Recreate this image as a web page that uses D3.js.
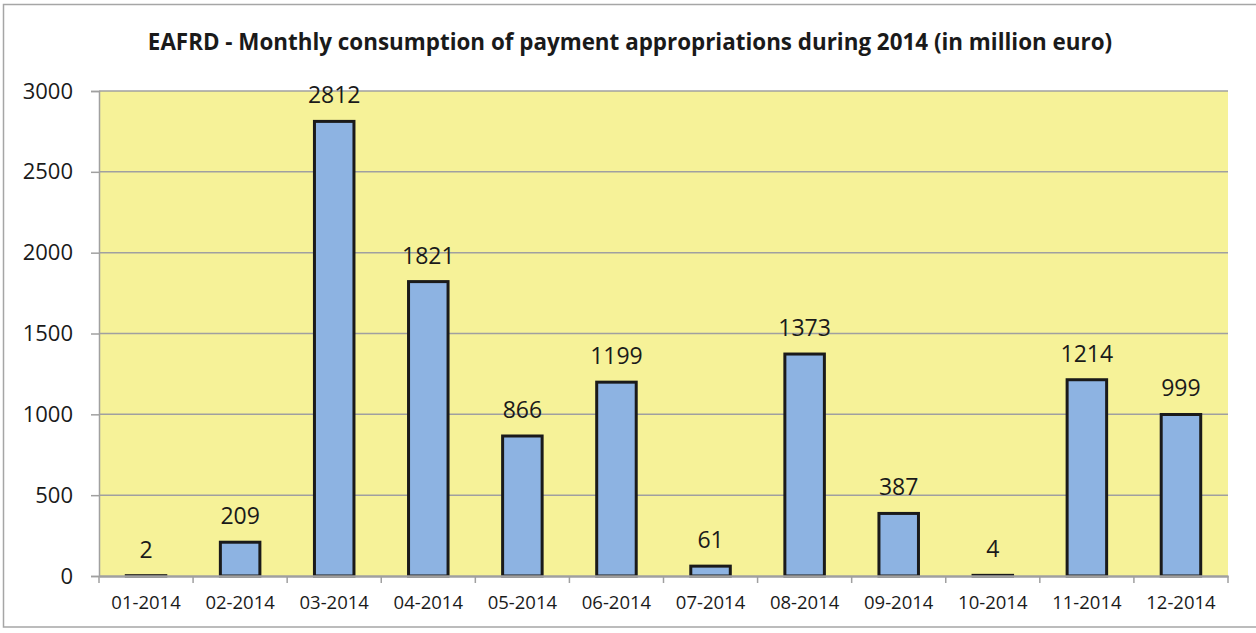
<!DOCTYPE html>
<html>
<head>
<meta charset="utf-8">
<script src="https://cdn.jsdelivr.net/npm/d3@7"></script>
<style>
  body { margin: 0; background: #fff; }
  text { font-family: "Open Sans", sans-serif; fill: #1a1a1a; }
</style>
</head>
<body>
<div id="chart"></div>
<script>
(function(){

var months = ["01-2014", "02-2014", "03-2014", "04-2014", "05-2014", "06-2014",
              "07-2014", "08-2014", "09-2014", "10-2014", "11-2014", "12-2014"];
var payments = [2, 209, 2812, 1821, 866, 1199, 61, 1373, 387, 4, 1214, 999];
var yTicks = [0, 500, 1000, 1500, 2000, 2500, 3000];
var title = "EAFRD - Monthly consumption of payment appropriations during 2014 (in million euro)";

var W = 1256, H = 633;
var margin = {top: 91, right: 28, bottom: 57, left: 99},
    width = W - margin.left - margin.right,
    height = H - margin.top - margin.bottom;

var root = d3.select("#chart")
  .append("svg")
    .attr("width", W)
    .attr("height", H);

// outer chart border
root.append("rect")
    .attr("x", 3.5).attr("y", 4.5)
    .attr("width", W + 10).attr("height", 627 - 4.5)
    .attr("fill", "#fff")
    .attr("stroke", "#a6a6a6")
    .attr("stroke-width", 1.5);

root.append("text")
    .attr("x", 630)
    .attr("y", 50)
    .attr("text-anchor", "middle")
    .attr("font-size", "22.4px")
    .attr("font-weight", "bold")
    .text(title);

var svg = root.append("g")
    .attr("transform", "translate(" + margin.left + "," + margin.top + ")");

var x = d3.scaleBand()
          .domain(months)
          .range([0, width])
          .paddingInner(0.58)
          .paddingOuter(0.29);

var xb = d3.scaleBand().domain(months).range([0, width]);

var y = d3.scaleLinear()
          .domain([0, 3000])
          .range([height, 0]);

// plot background
svg.append("rect")
    .attr("width", width)
    .attr("height", height)
    .attr("fill", "#f6f298");

// gridlines
svg.selectAll(".grid")
    .data(yTicks.filter(d => d > 0)).enter()
    .append("line")
      .attr("x1", 0).attr("x2", width)
      .attr("y1", d => y(d)).attr("y2", d => y(d))
      .attr("stroke", "#a0a0a0")
      .attr("stroke-width", 1.5);

// bars
svg.selectAll(".bar")
    .data(payments).enter()
    .append("rect")
      .attr("x", (d, i) => x(months[i]))
      .attr("y", d => y(d))
      .attr("width", x.bandwidth())
      .attr("height", d => height - y(d))
      .attr("fill", "#8db3e2")
      .attr("stroke", "#1a1a1a")
      .attr("stroke-width", 3);

// value labels
svg.selectAll(".val")
    .data(payments).enter()
    .append("text")
      .attr("x", (d, i) => x(months[i]) + x.bandwidth() / 2)
      .attr("y", d => y(d) - 18)
      .attr("text-anchor", "middle")
      .attr("font-size", "23px")
      .text(d => d);

// y axis
var yAxis = svg.append("g")
    .call(d3.axisLeft(y).tickValues(yTicks).tickSize(8).tickFormat(d3.format("d")));
yAxis.select(".domain").attr("stroke", "#a0a0a0").attr("stroke-width", 1.5);
yAxis.selectAll(".tick line").attr("stroke", "#a0a0a0").attr("stroke-width", 1.5);
yAxis.selectAll(".tick text")
    .attr("x", -26)
    .attr("font-size", "22px")
    .attr("font-family", "Open Sans, sans-serif")
    .attr("fill", "#1a1a1a");

// x axis
var xAxis = svg.append("g")
    .attr("transform", "translate(0," + height + ")")
    .call(d3.axisBottom(xb).tickSize(0).tickSizeOuter(0));
xAxis.select(".domain").attr("stroke", "#a0a0a0").attr("stroke-width", 2.5);
xAxis.selectAll(".tick text")
    .attr("y", 20)
    .attr("font-size", "18.5px")
    .attr("font-family", "Open Sans, sans-serif")
    .attr("fill", "#1a1a1a");

// category boundary ticks
svg.selectAll(".xtick")
    .data(months.concat(["end"])).enter()
    .append("line")
      .attr("x1", (d, i) => i < months.length ? xb(d) : width)
      .attr("x2", (d, i) => i < months.length ? xb(d) : width)
      .attr("y1", height)
      .attr("y2", height + 7)
      .attr("stroke", "#a0a0a0")
      .attr("stroke-width", 1.5);

})()
</script>
</body>
</html>
